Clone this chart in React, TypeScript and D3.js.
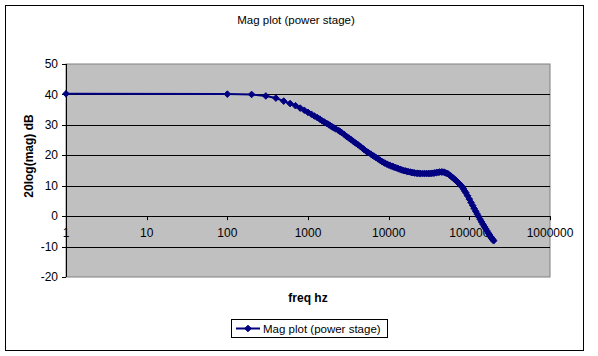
import React from "react";
import * as d3 from "d3";

const freqs = [
  1, 100, 200, 300, 400, 500, 600, 700, 800, 900, 1000, 1100, 1200, 1300, 1400, 1500, 1600, 1700, 1800, 1900,
  2000, 2100, 2200, 2400, 2500, 2600, 2800, 3000, 3200, 3400, 3600, 3800, 4000, 4200, 4500, 4800, 5000, 5300,
  5600, 6000, 6300, 6600, 7000, 7400, 7800, 8200, 8600, 9000, 9500, 10000, 10500, 11000, 11500, 12000, 12600,
  13200, 13800, 14500, 15200, 16000, 16800, 17600, 18400, 19200, 20000, 21000, 22000, 23000, 24000, 25000,
  26500, 28000, 29500, 31000, 32500, 34000, 35500, 37000, 39000, 41000, 43000, 45000, 47000, 49000, 51000,
  53000, 55000, 57500, 60000, 62500, 65000, 67500, 70000, 73000, 76000, 79000, 82000, 85000, 88000, 91000,
  95000, 100000, 105000, 110000, 115000, 120000, 125000, 130000, 136000, 142000, 148000, 154000, 160000,
  166000, 172000, 178000, 184000, 190000, 195000, 200000,
];

const magDb = [
  40.2, 40.1, 40.0, 39.5, 38.8, 37.8, 37.0, 36.3, 35.5, 34.8, 34.1, 33.5, 32.9, 32.4, 31.9, 31.3, 30.9, 30.5, 30.1, 29.7,
  29.3, 29.0, 28.7, 28.1, 27.8, 27.5, 26.9, 26.2, 25.7, 25.2, 24.7, 24.2, 23.8, 23.4, 22.8, 22.2, 21.8, 21.3,
  20.9, 20.4, 20.0, 19.7, 19.2, 18.8, 18.4, 18.0, 17.7, 17.4, 17.1, 16.8, 16.6, 16.4, 16.2, 16.0, 15.8,
  15.6, 15.4, 15.2, 15.0, 14.9, 14.7, 14.6, 14.5, 14.4, 14.3, 14.2, 14.1, 14.1, 14.0, 14.0,
  14.0, 14.0, 14.0, 14.0, 14.0, 14.1, 14.1, 14.2, 14.3, 14.4, 14.5, 14.5, 14.5, 14.4, 14.2,
  14.0, 13.8, 13.4, 13.0, 12.6, 12.2, 11.8, 11.4, 10.9, 10.5, 10.0, 9.5, 8.9, 8.2, 7.6,
  6.7, 5.6, 4.5, 3.5, 2.5, 1.6, 0.7, -0.1, -1.0, -1.9, -2.7, -3.5, -4.2,
  -4.9, -5.6, -6.2, -6.8, -7.3, -7.7, -8.1,
];

const xTicks = [1, 10, 100, 1000, 10000, 100000, 1000000];
const xTickLabels = ["1", "10", "100", "1000", "10000", "100000", "1000000"];
const yTicks = [-20, -10, 0, 10, 20, 30, 40, 50];

const titleText = "Mag plot (power stage)";
const xTitle = "freq hz";
const yTitle = "20log(mag) dB";
const seriesName = "Mag plot (power stage)";

const W = 598;
const H = 356;
const FONT = "Arial, 'Liberation Sans', sans-serif";
const NAVY = "#000080";

export default function App() {
  const left = 66, right = 550, top = 64, bottom = 277;
  const x = d3.scaleLog().domain([1, 1000000]).range([left, right]);
  const y = d3.scaleLinear().domain([-20, 50]).range([bottom, top]);
  const data = freqs.map((f, i) => ({ f, v: magDb[i] }));
  const line = d3.line<{ f: number; v: number }>().x((d) => x(d.f)).y((d) => y(d.v));
  const r = 3.3;
  const diamond = (cx: number, cy: number) =>
    `M${cx},${cy - r}L${cx + r},${cy}L${cx},${cy + r}L${cx - r},${cy}Z`;
  const legY = 328.5;
  const legX0 = 236;

  return (
    <svg
      width={W}
      height={H}
      style={{ position: "fixed", left: 0, top: 0, background: "#fff" }}
      fontFamily={FONT}
    >
      <rect x={0} y={0} width={W} height={H} fill="#fff" />
      <rect x={5.5} y={5.5} width={578} height={345} fill="#fff" stroke="#000" strokeWidth={1} />
      <text x={296} y={24} textAnchor="middle" fontSize={11.5} fill="#000">
        {titleText}
      </text>
      <rect x={left} y={top} width={right - left} height={bottom - top} fill="#C0C0C0" stroke="#808080" strokeWidth={1} />
      {yTicks
        .filter((t) => t > -20 && t < 50)
        .map((t) => (
          <line key={"g" + t} x1={left} x2={right} y1={Math.round(y(t)) + 0.5} y2={Math.round(y(t)) + 0.5} stroke="#000" strokeWidth={1} />
        ))}
      <line x1={left + 0.5} x2={left + 0.5} y1={top} y2={bottom} stroke="#000" strokeWidth={1} />
      {yTicks.map((t) => (
        <g key={"yt" + t}>
          <line x1={left - 4} x2={left} y1={Math.round(y(t)) + 0.5} y2={Math.round(y(t)) + 0.5} stroke="#000" />
          <text x={58} y={y(t)} dy="0.35em" textAnchor="end" fontSize={12} fill="#000">
            {t}
          </text>
        </g>
      ))}
      {xTicks.map((t, i) => (
        <g key={"xt" + t}>
          <line x1={Math.round(x(t)) + 0.5} x2={Math.round(x(t)) + 0.5} y1={y(0)} y2={y(0) + 4} stroke="#000" />
          <text x={x(t)} y={237} textAnchor="middle" fontSize={12} fill="#000">
            {xTickLabels[i]}
          </text>
        </g>
      ))}
      <path d={line(data) || ""} fill="none" stroke={NAVY} strokeWidth={2} />
      {data.map((d, i) => (
        <path key={"m" + i} d={diamond(x(d.f), y(d.v))} fill={NAVY} stroke={NAVY} strokeWidth={1} />
      ))}
      <text x={308} y={302} textAnchor="middle" fontSize={12} fontWeight="bold" fill="#000">
        {xTitle}
      </text>
      <text
        transform={`translate(33,156) rotate(-90)`}
        textAnchor="middle"
        fontSize={12}
        fontWeight="bold"
        fill="#000"
      >
        {yTitle}
      </text>
      <rect x={231.5} y={319.5} width={156} height={18} fill="#fff" stroke="#000" strokeWidth={1} />
      <line x1={legX0} x2={legX0 + 24} y1={legY} y2={legY} stroke={NAVY} strokeWidth={2} />
      <path d={diamond(legX0 + 12, legY)} fill={NAVY} stroke={NAVY} />
      <text x={legX0 + 27} y={legY} dy="0.35em" fontSize={11.5} fill="#000">
        {seriesName}
      </text>
    </svg>
  );
}
